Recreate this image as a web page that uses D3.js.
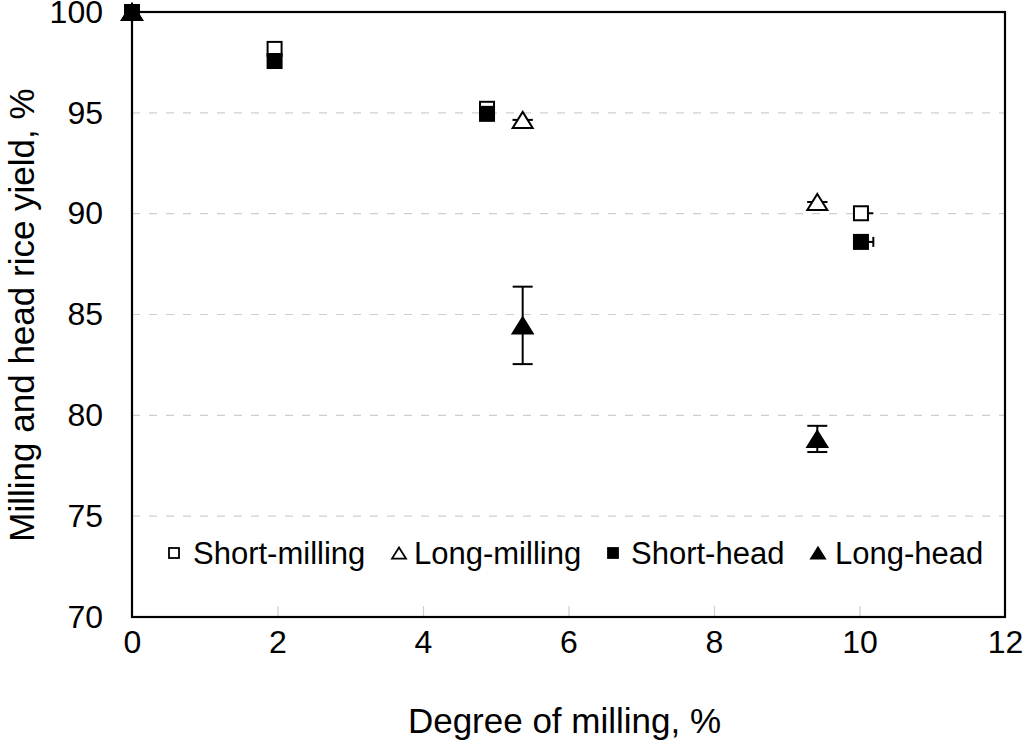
<!DOCTYPE html>
<html>
<head>
<meta charset="utf-8">
<script src="https://cdn.jsdelivr.net/npm/d3@7"></script>
<style>
  body { margin: 0; background: #fff; }
  text { font-family: "Liberation Sans", Arial, sans-serif; fill: #000; }
</style>
</head>
<body>
<svg id="chart" width="1024" height="749"></svg>
<script>
// x values (degree of milling, %)
var shortX = [0, 1.96, 4.88, 10.02];
var longX = [0, 5.37, 9.42];

// y values (yield, %)
var shortMilling = [100, 98.17, 95.2, 90.02];
var shortHead = [100, 97.57, 94.95, 88.6];
var longMilling = [100, 94.65, 90.58];
var longHead = [100, 84.46, 78.83];

// error bars (short series only show the plus side)
var shortXErr = [0, 0, 0, 0.17];
var longMillingXErr = [0, 0.14, 0.14];
var longHeadYErr = [0, 1.92, 0.65];

var xTicks = [0, 2, 4, 6, 8, 10, 12];
var yTicks = [70, 75, 80, 85, 90, 95, 100];
var legendNames = ["Short-milling", "Long-milling", "Short-head", "Long-head"];

var plotLeft = 132, plotRight = 1005, plotTop = 12, plotBottom = 617;

var svg = d3.select("#chart");

var x = d3.scaleLinear().domain([0, 12]).range([plotLeft, plotRight]);
var y = d3.scaleLinear().domain([70, 100]).range([plotBottom, plotTop]);

// dashed gridlines
svg.append("g")
    .selectAll("line")
    .data(yTicks.filter(d => d > 70 && d < 100))
    .enter().append("line")
    .attr("x1", plotLeft).attr("x2", plotRight)
    .attr("y1", d => y(d)).attr("y2", d => y(d))
    .attr("stroke", "#cfcfcf")
    .attr("stroke-width", 1.2)
    .attr("stroke-dasharray", "8,9");

// small inner ticks on x axis
svg.append("g")
    .attr("transform", "translate(0," + plotBottom + ")")
    .call(d3.axisBottom(x).tickValues([2, 4, 6, 8, 10]).tickSize(-11).tickFormat(""))
    .call(g => g.select(".domain").remove())
    .call(g => g.selectAll("line").attr("stroke", "#cfcfcf").attr("stroke-width", 1.2));

// tick labels
svg.append("g")
    .attr("transform", "translate(0," + plotBottom + ")")
    .call(d3.axisBottom(x).tickValues(xTicks).tickSize(0).tickPadding(13))
    .call(g => g.select(".domain").remove())
    .call(g => g.selectAll("text").style("font-size", "32px").attr("font-family", null));

svg.append("g")
    .attr("transform", "translate(" + plotLeft + ",0)")
    .call(d3.axisLeft(y).tickValues(yTicks).tickSize(0).tickPadding(29))
    .call(g => g.select(".domain").remove())
    .call(g => g.selectAll("text").style("font-size", "32px").attr("font-family", null));

// frame
svg.append("rect")
    .attr("x", plotLeft).attr("y", plotTop)
    .attr("width", plotRight - plotLeft).attr("height", plotBottom - plotTop)
    .attr("fill", "none").attr("stroke", "#000").attr("stroke-width", 2.2);

// axis titles
svg.append("text")
    .attr("x", (plotLeft + plotRight) / 2 - 4)
    .attr("y", 733)
    .attr("text-anchor", "middle")
    .style("font-size", "35px")
    .text("Degree of milling, %");

svg.append("text")
    .attr("transform", "translate(34,315) rotate(-90)")
    .attr("text-anchor", "middle")
    .style("font-size", "35px")
    .text("Milling and head rice yield, %");

// marker shapes
var sq = 14, tri = 20;
function triPath(cx, cy, w) {
    var h = w * 0.8;
    return "M" + cx + "," + (cy - h / 2) + "L" + (cx + w / 2) + "," + (cy + h / 2) + "L" + (cx - w / 2) + "," + (cy + h / 2) + "Z";
}

// horizontal error bars; plusOnly draws just the right-hand side
function xErrBars(xs, ys, errs, plusOnly, caps) {
    var g = svg.append("g").attr("stroke", "#000").attr("stroke-width", 2);
    xs.forEach(function(d, i) {
        if (!errs[i]) return;
        var lo = plusOnly ? d : d - errs[i];
        var hi = d + errs[i];
        g.append("line")
            .attr("x1", x(lo)).attr("x2", x(hi))
            .attr("y1", y(ys[i])).attr("y2", y(ys[i]));
        if (caps) {
            g.append("line")
                .attr("x1", x(hi)).attr("x2", x(hi))
                .attr("y1", y(ys[i]) - 5).attr("y2", y(ys[i]) + 5);
        }
    });
}

function yErrBars(xs, ys, errs) {
    var g = svg.append("g").attr("stroke", "#000").attr("stroke-width", 2);
    xs.forEach(function(d, i) {
        if (!errs[i]) return;
        g.append("line")
            .attr("x1", x(d)).attr("x2", x(d))
            .attr("y1", y(ys[i] - errs[i])).attr("y2", y(ys[i] + errs[i]));
        [ys[i] - errs[i], ys[i] + errs[i]].forEach(function(e) {
            g.append("line")
                .attr("x1", x(d) - 10).attr("x2", x(d) + 10)
                .attr("y1", y(e)).attr("y2", y(e));
        });
    });
}

function squares(xs, ys, filled) {
    svg.append("g").selectAll("rect")
        .data(xs)
        .enter().append("rect")
        .attr("x", (d, i) => x(d) - sq / 2)
        .attr("y", (d, i) => y(ys[i]) - sq / 2)
        .attr("width", sq).attr("height", sq)
        .attr("fill", filled ? "#000" : "#fff")
        .attr("stroke", "#000").attr("stroke-width", 2);
}

function triangles(xs, ys, filled) {
    svg.append("g").selectAll("path")
        .data(xs)
        .enter().append("path")
        .attr("d", (d, i) => triPath(x(d), y(ys[i]), tri))
        .attr("fill", filled ? "#000" : "#fff")
        .attr("stroke", "#000").attr("stroke-width", 2)
        .attr("stroke-linejoin", "miter");
}

// series
xErrBars(shortX, shortMilling, shortXErr, true, false);
squares(shortX, shortMilling, false);
xErrBars(longX, longMilling, longMillingXErr, false, false);
triangles(longX, longMilling, false);
yErrBars(longX, longHead, longHeadYErr);
triangles(longX, longHead, true);
xErrBars(shortX, shortHead, shortXErr, true, true);
squares(shortX, shortHead, true);

// legend
var legendMarkX = [174, 399, 613, 818];
var legendTextX = [193, 414, 631, 835];
var legendY = 553;
var lg = svg.append("g");
legendNames.forEach(function(name, i) {
    var filled = i >= 2;
    if (i % 2 === 0) {
        lg.append("rect")
            .attr("x", legendMarkX[i] - 5).attr("y", legendY - 5)
            .attr("width", 10).attr("height", 10)
            .attr("fill", filled ? "#000" : "#fff")
            .attr("stroke", "#000").attr("stroke-width", 1.8);
    } else {
        lg.append("path")
            .attr("d", triPath(legendMarkX[i], legendY, 14))
            .attr("fill", filled ? "#000" : "#fff")
            .attr("stroke", "#000").attr("stroke-width", 1.8);
    }
    lg.append("text")
        .attr("x", legendTextX[i])
        .attr("y", legendY + 11)
        .style("font-size", "31px")
        .text(name);
});
</script>
</body>
</html>
